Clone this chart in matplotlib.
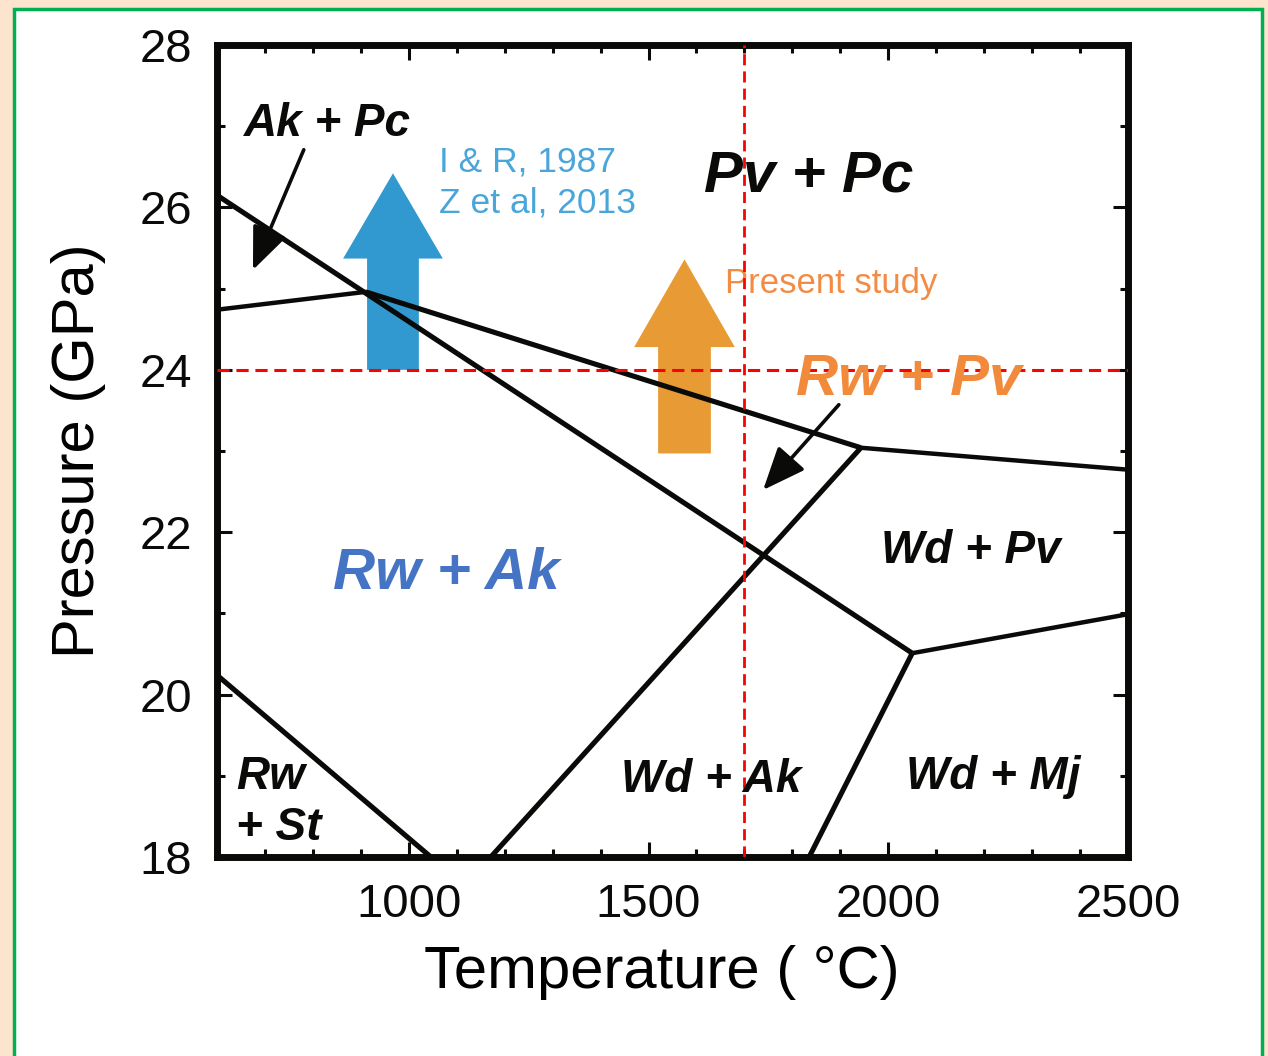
import matplotlib
matplotlib.use("Agg")
import matplotlib.pyplot as plt
from matplotlib.patches import Rectangle, Polygon, FancyArrowPatch
import numpy as np

plt.rcParams['font.family'] = ['Liberation Sans', 'DejaVu Sans']

# ---- data ----
bound_A_T = [600, 2050]; bound_A_P = [26.15, 20.51]
bound_B_T = [600, 910];  bound_B_P = [24.74, 24.96]
bound_C_T = [910, 1943]; bound_C_P = [24.96, 23.04]
bound_D_T = [1943, 2500]; bound_D_P = [23.04, 22.77]
bound_E_T = [1171, 1943]; bound_E_P = [18.0, 23.04]
bound_F_T = [2050, 2500]; bound_F_P = [20.51, 20.99]
bound_G_T = [1835, 2050]; bound_G_P = [18.0, 20.51]
bound_H_T = [600, 1046]; bound_H_P = [20.24, 18.0]

ref_T = 1700
ref_P = 24

# block arrows: center T, base P, tip P, head-base P, shaft half-width, head half-width
blue_arrow = [967, 24.0, 26.42, 25.37, 54, 104]
orange_arrow = [1575, 22.97, 25.36, 24.28, 55, 105]

# pointer arrows: (T_start, P_start, T_end, P_end)
ptr1 = [781, 26.71, 675, 25.23]
ptr2 = [1897, 23.57, 1739, 22.52]

x_ticks = [1000, 1500, 2000, 2500]
y_ticks = [18, 20, 22, 24, 26, 28]

fig = plt.figure(figsize=(12.68, 10.56), dpi=100)
fig.patch.set_facecolor('#FCE4CF')
fig.patches.append(Rectangle((14/1268, -0.05), (1262-14)/1268, 1.05 - 8.5/1056,
                             transform=fig.transFigure, facecolor='white',
                             edgecolor='#00B050', linewidth=2.5, zorder=-10))

ax = fig.add_axes([217/1268, 1-857/1056, (1128-217)/1268, (857-45)/1056])
ax.set_zorder(1)
ax.set_xlim(600, 2500)
ax.set_ylim(18, 28)
ax.set_facecolor('none')

thick = 3.7
thin = 3.2
for T, P, lw in [(bound_A_T, bound_A_P, thick), (bound_B_T, bound_B_P, thin),
                 (bound_C_T, bound_C_P, thick), (bound_D_T, bound_D_P, thin),
                 (bound_E_T, bound_E_P, thick), (bound_F_T, bound_F_P, thin),
                 (bound_G_T, bound_G_P, thick), (bound_H_T, bound_H_P, thick)]:
    ax.plot(T, P, color='#0a0a08', lw=lw, solid_capstyle='butt', zorder=3)

ax.axhline(ref_P, color='#FF0000', lw=2.2, ls=(0, (4, 2.2)), zorder=5)
ax.axvline(ref_T, color='#FF0000', lw=2.0, ls=(0, (4, 2.2)), zorder=5)

def block_arrow(a, color):
    c, b, t, hb, sw, hw = a
    pts = [(c - sw, b), (c + sw, b), (c + sw, hb), (c + hw, hb), (c, t),
           (c - hw, hb), (c - sw, hb)]
    ax.add_patch(Polygon(pts, closed=True, facecolor=color, edgecolor='none', zorder=2))

block_arrow(blue_arrow, '#3199CF')
block_arrow(orange_arrow, '#E89A35')

for p in (ptr1, ptr2):
    ax.add_patch(FancyArrowPatch((p[0], p[1]), (p[2], p[3]),
                                 arrowstyle='-|>,head_length=1.2,head_width=0.5',
                                 mutation_scale=22, color='#0a0a08', lw=2.6, zorder=4,
                                 shrinkA=0, shrinkB=0))

bi = dict(fontweight='bold', fontstyle='italic', va='center', ha='left')
ax.text(656, 27.03, 'Ak + Pc', fontsize=33, color='#0a0a08', **bi)
ax.text(1615, 26.38, 'Pv + Pc', fontsize=42, color='#0a0a08', **bi)
ax.text(1807, 23.88, 'Rw + Pv', fontsize=42, color='#F28A3C', zorder=6, **bi)
ax.text(841, 21.49, 'Rw + Ak', fontsize=42, color='#4674C4', **bi)
ax.text(1985, 21.77, 'Wd + Pv', fontsize=33, color='#0a0a08', **bi)
ax.text(1442, 18.95, 'Wd + Ak', fontsize=33, color='#0a0a08', zorder=6, **bi)
ax.text(2037, 18.98, 'Wd + Mj', fontsize=33, color='#0a0a08', **bi)
ax.text(639, 18.99, 'Rw', fontsize=33, color='#0a0a08', **bi)
ax.text(639, 18.36, '+ St', fontsize=33, color='#0a0a08', **bi)

ax.text(1063, 26.56, 'I & R, 1987', fontsize=25.5, color='#4AA6DA', va='center', ha='left')
ax.text(1063, 26.06, 'Z et al, 2013', fontsize=25.5, color='#4AA6DA', va='center', ha='left')
ax.text(1659, 25.06, 'Present study', fontsize=25, color='#F28C45', va='center', ha='left')

ax.set_xticks(x_ticks)
ax.set_yticks(y_ticks)
ax.set_xticks(np.arange(700, 2500, 100), minor=True)
ax.set_yticks(np.arange(19, 28, 2), minor=True)
ax.tick_params(which='both', direction='in', top=True, right=True, width=2.2,
               color='#0a0a08', labelsize=34, labelcolor='#0a0a08')
ax.tick_params(which='major', length=11)
ax.tick_params(which='minor', length=5.5)
ax.tick_params(axis='x', pad=19)
ax.tick_params(axis='y', pad=18)
for s in ax.spines.values():
    s.set_linewidth(5)
    s.set_color('#0a0a08')

ax.set_xlabel('Temperature ( °C)', fontsize=43)
ax.xaxis.set_label_coords((662 - 217) / 911, -(972 - 857) / 812, transform=ax.transAxes)
ax.xaxis.label.set_va('center')
ax.set_ylabel('Pressure (GPa)', fontsize=43, labelpad=24)

fig.savefig('out.png', dpi=100, facecolor=fig.get_facecolor())
